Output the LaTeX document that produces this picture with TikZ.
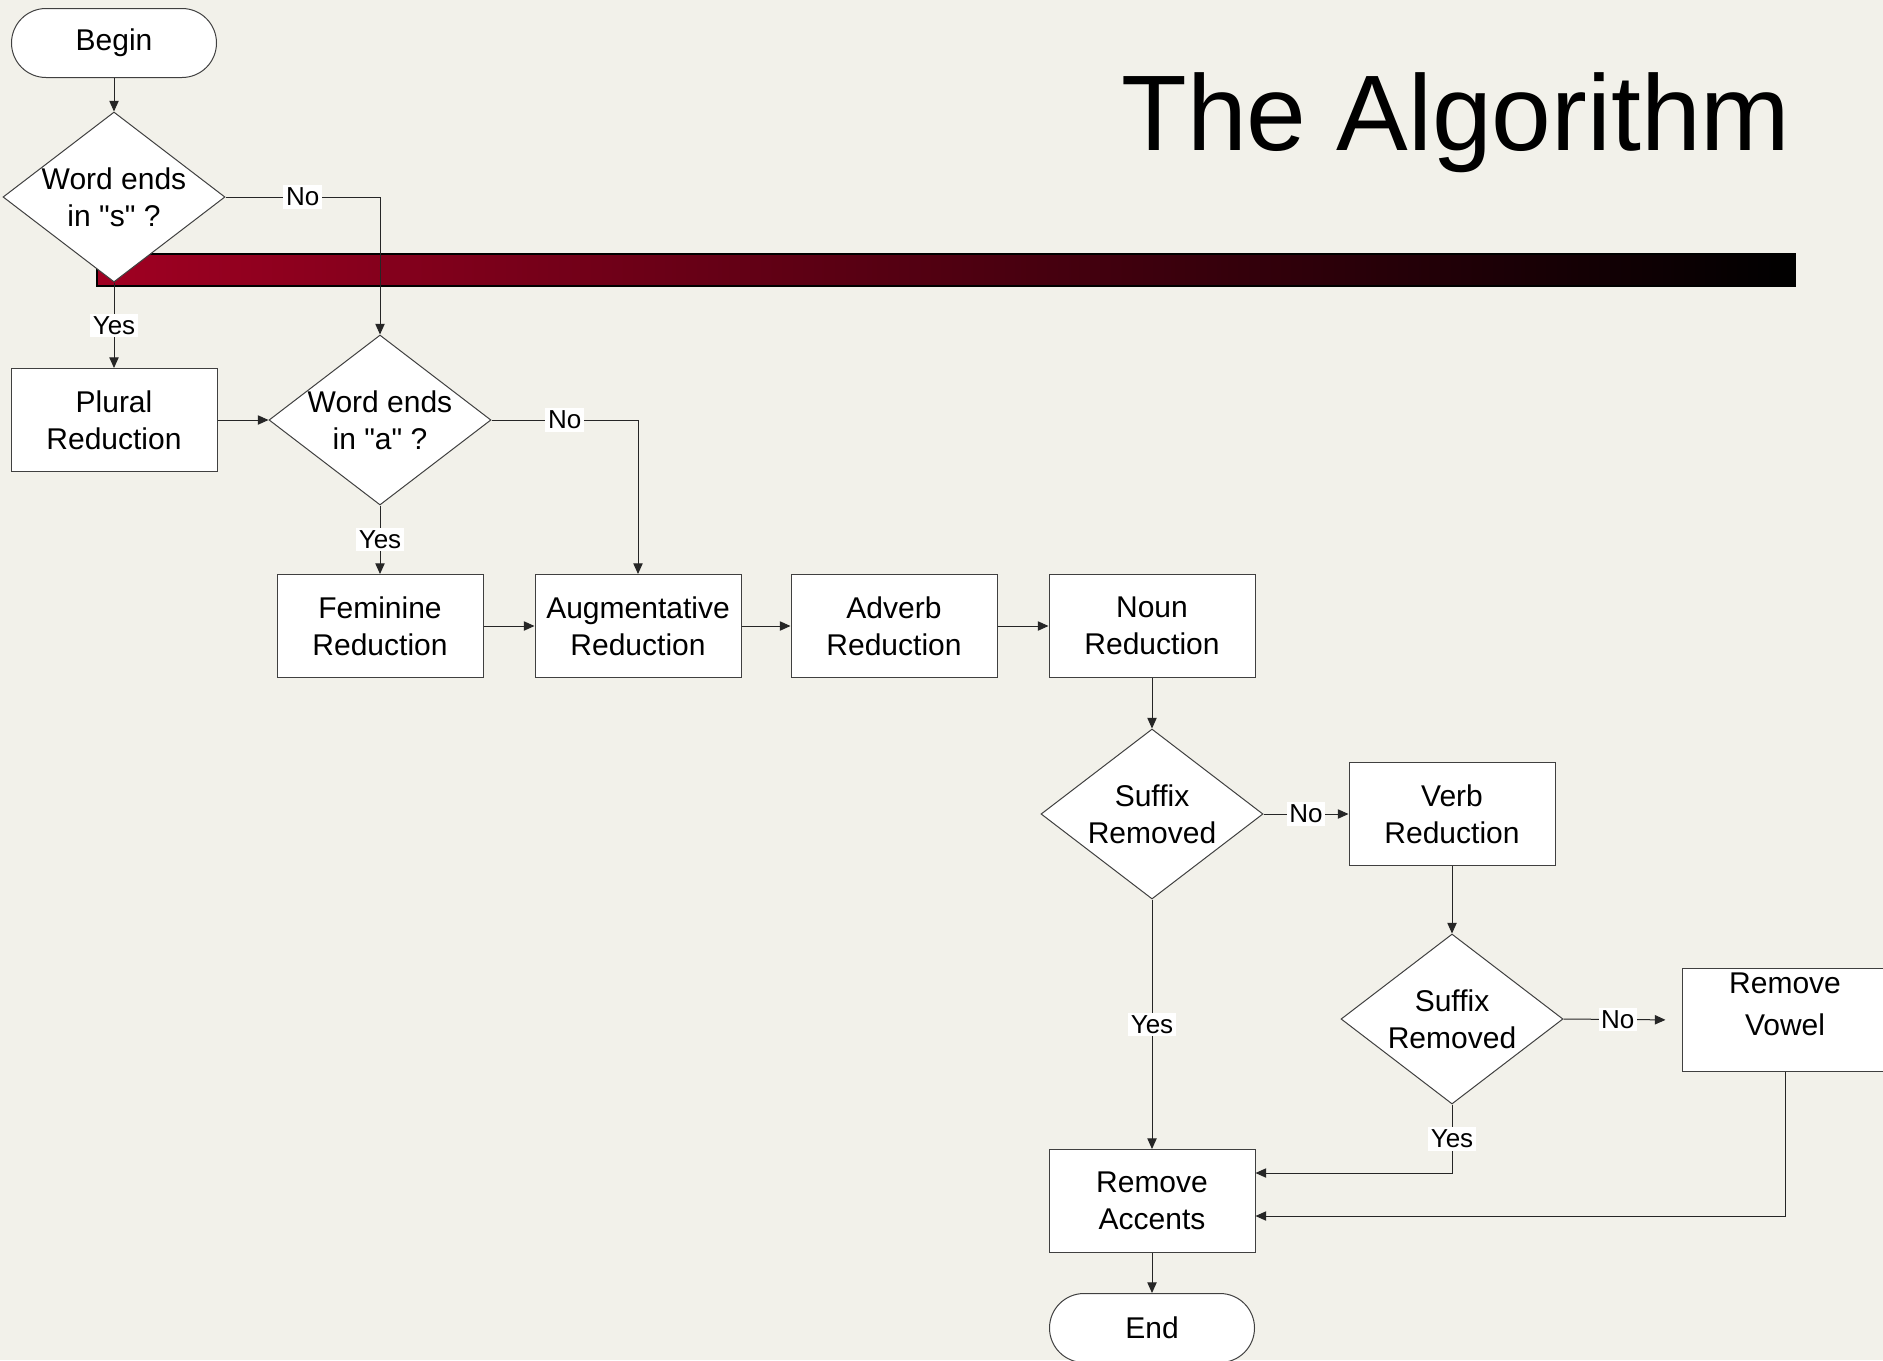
\documentclass[tikz,border=0pt]{standalone}
\usepackage{fontspec}
\setmainfont[Ligatures=TeXOff]{Liberation Sans}
\usetikzlibrary{shapes.geometric,shapes.misc,arrows.meta,calc}
\definecolor{bgcol}{RGB}{242,241,234}
\definecolor{barred}{RGB}{160,0,34}
\begin{document}
\begin{tikzpicture}[x=0.75pt,y=-0.75pt,
  every node/.style={font=\fontsize{22.5pt}{27.75pt}\selectfont},
  box/.style={draw=black!75, line width=0.75pt, fill=white, rectangle, minimum width=154.5pt, minimum height=77.25pt, align=center, inner sep=0pt},
  term/.style={draw=black!75, line width=0.75pt, fill=white, rounded rectangle, minimum width=153.75pt, minimum height=51.75pt, inner sep=0pt},
  dia/.style={draw=black!75, line width=0.75pt, fill=white, diamond, minimum width=166.5pt, minimum height=127.5pt, inner sep=0pt},
  dtxt/.style={align=center, inner sep=0pt},
  conn/.style={draw=black!85, line width=0.75pt, -{Triangle[length=8pt,width=7pt]}},
  lbl/.style={fill=white, inner sep=2pt, font=\fontsize{19.5pt}{23pt}\selectfont},
]
\fill[bgcol] (0,0) rectangle (1883,1360);
\useasboundingbox (0,0) rectangle (1883,1360);
\clip (0,0) rectangle (1883,1360);

% title and bar
\node[font=\fontsize{80.6pt}{90pt}\selectfont, anchor=base, inner sep=0pt] (title) at (1456,150) {The Algorithm};
\shadedraw[left color=barred, right color=black, draw=black, line width=1.5pt] (97,254) rectangle (1795,286);

% nodes
\node[term] (begin) at (114,43) {\raisebox{-2pt}{Begin}};
\node[dia, label={[dtxt]center:Word ends\\in "s" ?}] (d1) at (114,197) {};
\node[box] (plural) at (114,420) {Plural\\Reduction};
\node[dia, label={[dtxt]center:Word ends\\in "a" ?}] (d2) at (380,420) {};
\node[box] (fem) at (380,626) {Feminine\\Reduction};
\node[box] (aug) at (638,626) {Augmentative\\Reduction};
\node[box] (adv) at (894,626) {Adverb\\Reduction};
\node[box] (noun) at (1152,626) {Noun\\Reduction};
\node[dia, label={[dtxt]center:Suffix\\Removed}] (d3) at (1152,814) {};
\node[box] (verb) at (1452,814) {Verb\\Reduction};
\node[dia, label={[dtxt]center:Suffix\\Removed}] (d4) at (1452,1019) {};
\node[box, label={[dtxt, yshift=12pt, font=\fontsize{22.5pt}{31.5pt}\selectfont]center:Remove\\Vowel}] (rv) at (1785,1020) {};
\node[box] (ra) at (1152,1201) {Remove\\Accents};
\node[term] (end) at (1152,1328) {End};

% connectors
\draw[conn] (begin.south) -- (d1.north);
\draw[conn] (d1.east) -| node[lbl, pos=0.25] {No} (d2.north);
\draw[conn] (d1.south) -- node[lbl] {Yes} (plural.north);
\draw[conn] (plural.east) -- (d2.west);
\draw[conn] (d2.east) -| node[lbl, pos=0.25] {No} (aug.north);
\draw[conn] (d2.south) -- node[lbl] {Yes} (fem.north);
\draw[conn] (fem.east) -- (aug.west);
\draw[conn] (aug.east) -- (adv.west);
\draw[conn] (adv.east) -- (noun.west);
\draw[conn] (noun.south) -- (d3.north);
\draw[conn] (d3.east) -- node[lbl] {No} (verb.west);
\draw[conn] (d3.south) -- node[lbl] {Yes} (ra.north);
\draw[conn] (verb.south) -- (d4.north);
\draw[conn, shorten >=12pt] (d4.east) -- node[lbl, pos=0.46] {No} (rv.west);
\draw[conn] (d4.south) |- node[lbl, pos=0.25] {Yes} ($(ra.east)+(0,-28)$);
\draw[conn] (rv.south) |- ($(ra.east)+(0,15)$);
\draw[conn] (ra.south) -- (end.north);
\end{tikzpicture}
\end{document}
